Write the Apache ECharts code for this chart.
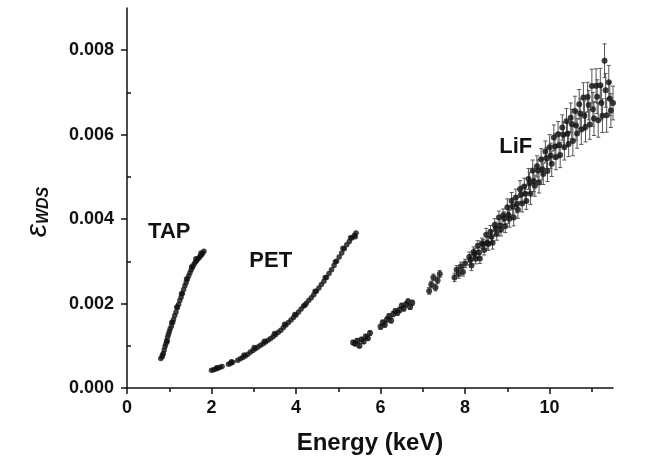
<!DOCTYPE html>
<html><head><meta charset="utf-8">
<script src="https://cdn.jsdelivr.net/npm/echarts@6/dist/echarts.min.js"></script>
<style>html,body{margin:0;padding:0;background:#fff}#c{width:661px;height:470px}</style>
</head><body><div id="c"></div>
<script>
// ---- data ----
const tapE = [0.80,0.83,0.84,0.86,0.88,0.90,0.92,0.94,0.96,0.98,1.00,1.02,1.05,1.08,1.10,1.13,1.16,1.19,1.22,1.25,1.28,1.31,1.34,1.37,1.40,1.43,1.46,1.49,1.52,1.55,1.58,1.61,1.64,1.67,1.70,1.73,1.76,1.79,1.82,
              0.95,1.06,1.18,1.29,1.41,1.53,1.63,1.75];
const tapV = [0.70e-3,0.74e-3,0.78e-3,0.82e-3,0.90e-3,0.98e-3,1.05e-3,1.12e-3,1.20e-3,1.27e-3,1.33e-3,1.40e-3,1.46e-3,1.55e-3,1.62e-3,1.72e-3,1.80e-3,1.90e-3,1.98e-3,2.07e-3,2.15e-3,2.24e-3,2.33e-3,2.42e-3,2.50e-3,2.58e-3,2.66e-3,2.73e-3,2.80e-3,2.86e-3,2.92e-3,2.97e-3,3.01e-3,3.05e-3,3.08e-3,3.12e-3,3.15e-3,3.19e-3,3.24e-3,
              1.10e-3,1.55e-3,1.92e-3,2.23e-3,2.58e-3,2.87e-3,3.06e-3,3.20e-3];

const petE = [2.00,2.05,2.10,2.15,2.20,2.25,2.40,2.45,2.50,2.62,2.68,2.74,2.80,2.86,2.92,2.98,3.04,3.10,3.16,3.22,3.28,3.34,3.40,3.46,3.52,3.58,3.64,3.70,3.76,3.82,3.88,3.94,4.00,4.06,4.12,4.18,4.24,4.30,4.36,4.42,4.48,4.54,4.60,4.66,4.72,4.78,4.84,4.90,4.96,5.02,5.08,5.14,5.20,5.26,5.32,5.38,5.42,
              2.12,2.47,2.77,3.01,3.25,3.49,3.73,3.97,4.21,4.45,4.69,4.93,5.11,5.29,5.40];
const petV = [0.42e-3,0.43e-3,0.45e-3,0.47e-3,0.49e-3,0.51e-3,0.56e-3,0.58e-3,0.61e-3,0.66e-3,0.69e-3,0.72e-3,0.76e-3,0.80e-3,0.85e-3,0.89e-3,0.93e-3,0.97e-3,1.01e-3,1.05e-3,1.09e-3,1.13e-3,1.17e-3,1.22e-3,1.27e-3,1.32e-3,1.37e-3,1.43e-3,1.49e-3,1.55e-3,1.61e-3,1.67e-3,1.73e-3,1.80e-3,1.87e-3,1.94e-3,2.00e-3,2.07e-3,2.14e-3,2.21e-3,2.29e-3,2.37e-3,2.45e-3,2.53e-3,2.62e-3,2.71e-3,2.80e-3,2.90e-3,3.00e-3,3.10e-3,3.20e-3,3.30e-3,3.39e-3,3.47e-3,3.55e-3,3.62e-3,3.67e-3,
              0.48e-3,0.62e-3,0.78e-3,0.96e-3,1.11e-3,1.29e-3,1.51e-3,1.74e-3,1.96e-3,2.29e-3,2.62e-3,2.99e-3,3.31e-3,3.56e-3,3.58e-3];

const lifE = [5.35,5.40,5.45,5.50,5.55,5.60,5.65,5.70,5.75,
  6.00,6.05,6.10,6.15,6.20,6.25,6.30,6.35,6.40,6.45,6.50,6.55,6.60,6.65,6.70,6.75,
  7.15,7.20,7.25,7.30,7.35,7.40,
  7.75,7.80,7.85,7.90,7.95,8.00,
  8.10,8.15,8.20,8.25,8.30,8.35,8.40,8.45,8.50,8.55,8.60,8.65,8.70,8.75,8.80,8.85,8.90,8.95,9.00,9.05,9.10,9.15,9.20,9.25,9.30,9.35,9.40,9.45,9.50,9.55,9.60,9.65,9.70,9.75,9.80,9.85,9.90,9.95,
  10.00,10.05,10.10,10.15,10.20,10.25,10.30,10.35,10.40,10.45,10.50,10.55,10.60,10.65,10.70,10.75,10.80,10.85,10.90,10.95,11.00,11.05,11.10,11.15,11.20,11.25,11.30,11.35,11.40,11.45,11.50,
  8.125,8.225,8.325,8.425,8.525,8.625,8.725,8.825,8.925,9.025,9.125,9.225,9.325,9.425,9.525,9.625,9.725,9.825,9.925,
  10.025,10.125,10.225,10.325,10.425,10.525,10.625,10.725,10.825,10.925,11.025,11.125,11.225,11.325,11.425];
const lifV = [1.08e-3,1.05e-3,1.12e-3,1.00e-3,1.15e-3,1.10e-3,1.22e-3,1.18e-3,1.30e-3,
  1.45e-3,1.55e-3,1.50e-3,1.62e-3,1.70e-3,1.60e-3,1.75e-3,1.82e-3,1.78e-3,1.85e-3,1.95e-3,1.88e-3,1.98e-3,2.05e-3,1.92e-3,2.02e-3,
  2.30e-3,2.45e-3,2.62e-3,2.38e-3,2.55e-3,2.70e-3,
  2.62e-3,2.80e-3,2.70e-3,2.88e-3,2.75e-3,2.95e-3,
  3.10e-3,2.90e-3,3.22e-3,3.06e-3,3.37e-3,3.07e-3,3.43e-3,3.27e-3,3.63e-3,3.41e-3,3.70e-3,3.44e-3,3.86e-3,3.65e-3,4.04e-3,3.75e-3,4.09e-3,3.83e-3,4.28e-3,4.01e-3,4.43e-3,4.04e-3,4.51e-3,4.22e-3,4.71e-3,4.37e-3,4.77e-3,4.43e-3,4.95e-3,4.60e-3,5.15e-3,4.79e-3,5.25e-3,4.87e-3,5.42e-3,5.07e-3,5.60e-3,5.14e-3,
  5.70e-3,5.31e-3,5.93e-3,5.47e-3,6.01e-3,5.52e-3,6.17e-3,5.70e-3,6.32e-3,5.78e-3,6.40e-3,5.85e-3,6.56e-3,6.03e-3,6.72e-3,6.12e-3,6.88e-3,6.18e-3,6.89e-3,6.24e-3,7.15e-3,6.38e-3,7.16e-3,6.34e-3,7.17e-3,6.45e-3,7.75e-3,6.46e-3,7.24e-3,6.57e-3,6.75e-3,
  3.04e-3,3.18e-3,3.21e-3,3.40e-3,3.44e-3,3.58e-3,3.78e-3,3.85e-3,4.02e-3,4.10e-3,4.30e-3,4.35e-3,4.58e-3,4.60e-3,4.85e-3,4.90e-3,5.15e-3,5.18e-3,5.45e-3,
  5.50e-3,5.72e-3,5.75e-3,6.00e-3,6.02e-3,6.25e-3,6.22e-3,6.50e-3,6.45e-3,6.70e-3,6.60e-3,6.90e-3,6.75e-3,7.05e-3,6.85e-3];
const lifErr = [0.05e-3,0.05e-3,0.05e-3,0.05e-3,0.05e-3,0.05e-3,0.05e-3,0.05e-3,0.05e-3,
  0.06e-3,0.06e-3,0.06e-3,0.06e-3,0.06e-3,0.06e-3,0.06e-3,0.06e-3,0.06e-3,0.06e-3,0.06e-3,0.06e-3,0.06e-3,0.06e-3,0.06e-3,0.06e-3,
  0.08e-3,0.08e-3,0.08e-3,0.08e-3,0.08e-3,0.08e-3,
  0.10e-3,0.10e-3,0.10e-3,0.10e-3,0.10e-3,0.10e-3,
  0.12e-3,0.12e-3,0.12e-3,0.12e-3,0.12e-3,0.12e-3,0.12e-3,0.12e-3,0.15e-3,0.15e-3,0.15e-3,0.15e-3,0.15e-3,0.15e-3,0.15e-3,0.15e-3,0.15e-3,0.15e-3,0.20e-3,0.20e-3,0.20e-3,0.20e-3,0.20e-3,0.20e-3,0.20e-3,0.20e-3,0.20e-3,0.20e-3,0.25e-3,0.25e-3,0.25e-3,0.25e-3,0.25e-3,0.25e-3,0.25e-3,0.25e-3,0.25e-3,0.25e-3,
  0.30e-3,0.30e-3,0.30e-3,0.30e-3,0.30e-3,0.30e-3,0.30e-3,0.30e-3,0.30e-3,0.30e-3,0.35e-3,0.35e-3,0.35e-3,0.35e-3,0.35e-3,0.35e-3,0.35e-3,0.35e-3,0.35e-3,0.35e-3,0.40e-3,0.40e-3,0.40e-3,0.40e-3,0.40e-3,0.40e-3,0.40e-3,0.40e-3,0.40e-3,0.40e-3,0.40e-3,
  0.12e-3,0.12e-3,0.12e-3,0.12e-3,0.15e-3,0.15e-3,0.15e-3,0.15e-3,0.15e-3,0.20e-3,0.20e-3,0.20e-3,0.20e-3,0.20e-3,0.25e-3,0.25e-3,0.25e-3,0.25e-3,0.25e-3,
  0.30e-3,0.30e-3,0.30e-3,0.30e-3,0.30e-3,0.35e-3,0.35e-3,0.35e-3,0.35e-3,0.35e-3,0.40e-3,0.40e-3,0.40e-3,0.40e-3,0.40e-3];

const xMajor = [0,2,4,6,8,10];
const xMinor = [1,3,5,7,9,11];
const yMajor = [0,0.002,0.004,0.006,0.008];
const yMinor = [0.001,0.003,0.005,0.007];
const crystalNames = ['TAP','PET','LiF'];

// ---- chart ----
const FONT = "'Liberation Sans', Arial, sans-serif";
const chart = echarts.init(document.getElementById('c'), null, {renderer:'canvas'});
const zip = (a,b)=>a.map((v,i)=>[v,b[i]]);
const X = {min:0,max:11.5};
const Y = {min:0,max:0.009};
const axLine = {show:true, lineStyle:{color:'#111', width:1.5}};
const option = {
  backgroundColor:'#fff',
  animation:false,
  grid:{left:127, right:48, top:8, bottom:82, containLabel:false},
  xAxis:[
    {type:'value', ...X, position:'bottom', axisLine:{...axLine, onZero:false},
     axisTick:{show:true, inside:false, length:6, lineStyle:{color:'#111',width:1.5}, customValues:xMajor},
     axisLabel:{customValues:xMajor, color:'#111', fontFamily:FONT, fontWeight:'bold', fontSize:18, margin:11},
     splitLine:{show:false},
     name:'Energy (keV)', nameLocation:'middle', nameGap:43,
     nameTextStyle:{color:'#111', fontFamily:FONT, fontWeight:'bold', fontSize:24}},
    {type:'value', ...X, position:'bottom', axisLine:{show:false},
     axisTick:{show:true, length:4, lineStyle:{color:'#111',width:1.5}, customValues:xMinor},
     axisLabel:{show:false}, splitLine:{show:false}}
  ],
  yAxis:[
    {type:'value', ...Y, axisLine:{...axLine, onZero:false},
     axisTick:{show:true, length:6, lineStyle:{color:'#111',width:1.5}, customValues:yMajor},
     axisLabel:{customValues:yMajor, color:'#111', fontFamily:FONT, fontWeight:'bold', fontSize:18, margin:13,
       formatter:v=>v.toFixed(3)},
     splitLine:{show:false}},
    {type:'value', ...Y, axisLine:{show:false},
     axisTick:{show:true, length:4, lineStyle:{color:'#111',width:1.5}, customValues:yMinor},
     axisLabel:{show:false}, splitLine:{show:false}}
  ],
  graphic:[
    {type:'text', x:38, y:212, rotation:Math.PI/2,
     style:{text:'{e|\u03b5}{s|WDS}', align:'center', verticalAlign:'middle',
       rich:{e:{fontFamily:FONT, fontStyle:'italic', fontSize:30, fill:'#111'},
             s:{fontFamily:FONT, fontStyle:'italic', fontWeight:'bold', fontSize:16, fill:'#111', padding:[12,0,0,0]}}}}
  ],
  series:[
    {type:'custom', name:'LiF err', xAxisIndex:0, yAxisIndex:0, z:1,
     data: lifE.map((e,i)=>[e, lifV[i]-lifErr[i], lifV[i]+lifErr[i]]),
     renderItem:(params, api)=>{
       const p1 = api.coord([api.value(0), api.value(1)]);
       const p2 = api.coord([api.value(0), api.value(2)]);
       const st = {stroke:'#555', lineWidth:1};
       return {type:'group', children:[
         {type:'line', shape:{x1:p1[0],y1:p1[1],x2:p2[0],y2:p2[1]}, style:st},
         {type:'line', shape:{x1:p1[0]-2,y1:p1[1],x2:p1[0]+2,y2:p1[1]}, style:st},
         {type:'line', shape:{x1:p2[0]-2,y1:p2[1],x2:p2[0]+2,y2:p2[1]}, style:st}
       ]};
     }},
    {type:'scatter', name:crystalNames[0], data:zip(tapE,tapV), symbol:'circle', symbolSize:5.5, itemStyle:{color:'#111'}, z:3},
    {type:'scatter', name:crystalNames[1], data:zip(petE,petV), symbol:'circle', symbolSize:5.5, itemStyle:{color:'#111'}, z:3},
    {type:'scatter', name:crystalNames[2], data:zip(lifE,lifV), symbol:'circle', symbolSize:6, itemStyle:{color:'#111'}, z:3}
  ]
};
// crystal labels as text placed in data coordinates
option.graphic.push(
  {type:'text', style:{text:crystalNames[0], fontFamily:FONT, fontWeight:'bold', fontSize:22, fill:'#111', align:'center', verticalAlign:'middle'}, id:'tap'},
  {type:'text', style:{text:crystalNames[1], fontFamily:FONT, fontWeight:'bold', fontSize:22, fill:'#111', align:'center', verticalAlign:'middle'}, id:'pet'},
  {type:'text', style:{text:crystalNames[2], fontFamily:FONT, fontWeight:'bold', fontSize:22, fill:'#111', align:'center', verticalAlign:'middle'}, id:'lif'}
);
chart.setOption(option);
const labelPos = {tap:[1.0,0.0037], pet:[3.4,0.0030], lif:[9.2,0.0057]};
chart.setOption({graphic:Object.keys(labelPos).map(k=>{
  const p = chart.convertToPixel({xAxisIndex:0,yAxisIndex:0}, labelPos[k]);
  return {id:k, x:p[0], y:p[1]};
})});
</script></body></html>
